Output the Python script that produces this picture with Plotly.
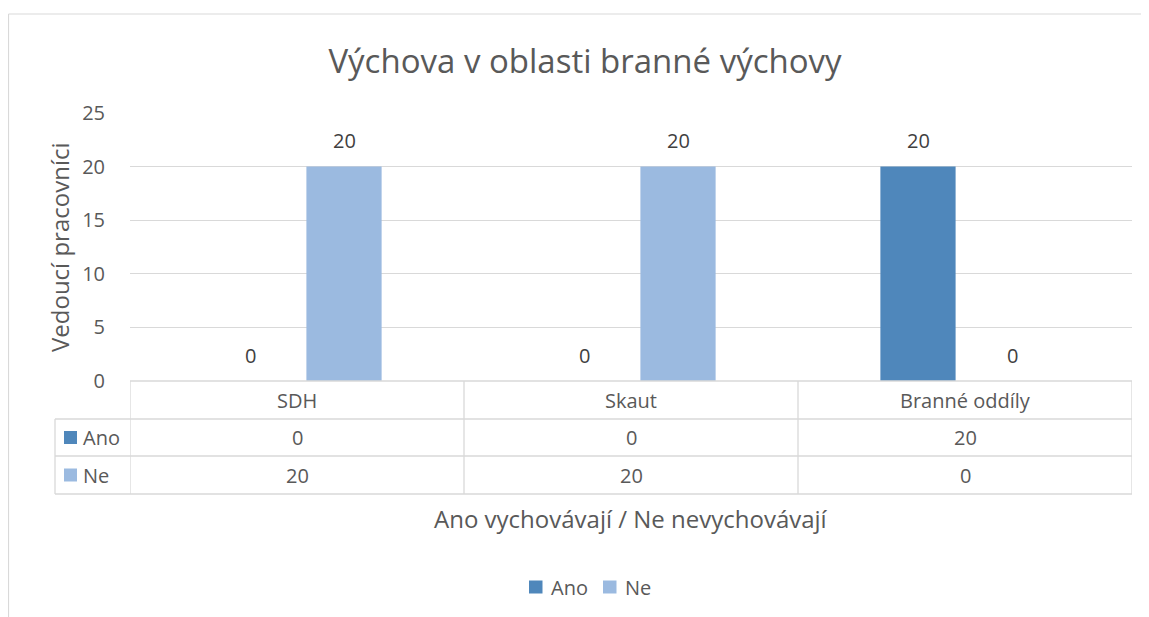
import plotly.graph_objects as go

categories = ["SDH", "Skaut", "Branné oddíly"]
series_names = ["Ano", "Ne"]
ano_values = [0, 0, 20]
ne_values = [20, 20, 0]
y_ticks = [0, 5, 10, 15, 20, 25]

title_text = "Výchova v oblasti branné výchovy"
x_title = "Ano vychovávají / Ne nevychovávají"
y_title = "Vedoucí pracovníci"

W, H = 1149, 617
OFF = 8  # page body margin of the browser
FONT = "Open Sans"
TXT = "#595959"
GRID = "#d9d9d9"
colors = {"Ano": "#4f87bb", "Ne": "#9bbae0"}


def px(x):
    return (x - OFF) / W


def py(y):
    return 1 - (y - OFF) / H


plot_left, plot_right = 130, 1132
plot_top, plot_bottom = 113, 381
row_edges = [381, 419, 456, 494]
table_left = 55

fig = go.Figure()
series = [("Ano", ano_values), ("Ne", ne_values)]
for name, vals in series:
    fig.add_trace(go.Bar(
        name=name, x=categories, y=vals,
        marker=dict(color=colors[name], line=dict(width=0)),
        cliponaxis=False, showlegend=False,
    ))

annotations = []
shapes = []
# data labels above bars
offsets = {"Ano": -47, "Ne": 47}
for name, vals in series:
    for c, v in zip(categories, vals):
        annotations.append(dict(
            x=c, y=v, xref="x", yref="y", text=str(v), showarrow=False,
            xshift=offsets[name], yshift=26, yanchor="middle",
            font=dict(family=FONT, size=20, color="#404040")))

# data table: category header row
cat_row_y = (row_edges[0] + row_edges[1]) / 2
for c in categories:
    annotations.append(dict(
        x=c, y=py(cat_row_y), xref="x", yref="paper", text=c, showarrow=False,
        yanchor="middle", font=dict(family=FONT, size=20, color=TXT)))
# series rows
for i, (name, vals) in enumerate(series):
    yc = (row_edges[i + 1] + row_edges[i + 2]) / 2
    for c, v in zip(categories, vals):
        annotations.append(dict(
            x=c, y=py(yc), xref="x", yref="paper", text=str(v), showarrow=False,
            yanchor="middle", font=dict(family=FONT, size=20, color=TXT)))
    annotations.append(dict(
        x=px(81), y=py(yc), xref="paper", yref="paper", text=name, showarrow=False,
        xanchor="left", yanchor="middle", font=dict(family=FONT, size=20, color=TXT)))
    shapes.append(dict(type="rect", xref="paper", yref="paper",
                       x0=px(64), x1=px(77), y0=py(yc + 6.5), y1=py(yc - 6.5),
                       fillcolor=colors[name], line=dict(width=0)))

line_style = dict(color=GRID, width=1.3)
# horizontal table lines
shapes.append(dict(type="line", xref="paper", yref="paper", x0=px(plot_left), x1=px(plot_right),
                   y0=py(row_edges[0]), y1=py(row_edges[0]), line=line_style))
for ye in row_edges[1:]:
    shapes.append(dict(type="line", xref="paper", yref="paper", x0=px(table_left), x1=px(plot_right),
                       y0=py(ye), y1=py(ye), line=line_style))
# vertical table lines
shapes.append(dict(type="line", xref="paper", yref="paper", x0=px(table_left), x1=px(table_left),
                   y0=py(row_edges[1]), y1=py(row_edges[3]), line=line_style))
for k in range(len(categories) + 1):
    shapes.append(dict(type="line", xref="x", yref="paper", x0=k - 0.5, x1=k - 0.5,
                       y0=py(row_edges[0]), y1=py(row_edges[3]), line=line_style))

# chart outer border (top and left visible)
shapes.append(dict(type="line", xref="paper", yref="paper", x0=px(8.5), x1=1.0,
                   y0=py(14), y1=py(14), line=dict(color=GRID, width=1.2)))
shapes.append(dict(type="line", xref="paper", yref="paper", x0=px(8.5), x1=px(8.5),
                   y0=py(14), y1=0, line=dict(color=GRID, width=1.2)))

# axis titles
annotations.append(dict(
    x=px((plot_left + plot_right) / 2), y=py(518), xref="paper", yref="paper",
    text=x_title, showarrow=False, yanchor="middle",
    font=dict(family=FONT, size=24, color=TXT)))
annotations.append(dict(
    x=px(60), y=py((plot_top + plot_bottom) / 2), xref="paper", yref="paper",
    text=y_title, showarrow=False, textangle=-90, xanchor="center", yanchor="middle",
    font=dict(family=FONT, size=24, color=TXT)))

# manual legend (compact, like the original)
legend_y = 587
legend_items = [("Ano", 529, 549), ("Ne", 603, 623)]
for name, sq_x, tx_x in legend_items:
    shapes.append(dict(type="rect", xref="paper", yref="paper",
                       x0=px(sq_x), x1=px(sq_x + 13.5), y0=py(legend_y + 6.5), y1=py(legend_y - 6.5),
                       fillcolor=colors[name], line=dict(width=0)))
    annotations.append(dict(
        x=px(tx_x), y=py(legend_y), xref="paper", yref="paper", text=name, showarrow=False,
        xanchor="left", yanchor="middle", font=dict(family=FONT, size=20, color=TXT)))

fig.update_layout(
    width=W, height=H,
    margin=dict(l=0, r=0, t=0, b=0, autoexpand=False),
    paper_bgcolor="white", plot_bgcolor="white",
    barmode="group", bargap=0.437, bargroupgap=0.2,
    showlegend=False,
    title=dict(text=title_text, x=px(585), xanchor="center", y=py(61), yanchor="middle",
               font=dict(family=FONT, size=33, color=TXT)),
    xaxis=dict(domain=[px(plot_left), px(plot_right)], range=[-0.5, 2.5],
               showticklabels=False, showgrid=False, zeroline=False, showline=False,
               ticks=""),
    yaxis=dict(domain=[py(plot_bottom), py(plot_top)], range=[0, 25],
               tickvals=y_ticks, showgrid=True, gridcolor=GRID, gridwidth=1.3,
               zeroline=False, showline=False, ticks="", ticklabelstandoff=24,
               tickfont=dict(family=FONT, size=20, color=TXT)),
    annotations=annotations,
    shapes=shapes,
)

fig.write_html("out.html")
